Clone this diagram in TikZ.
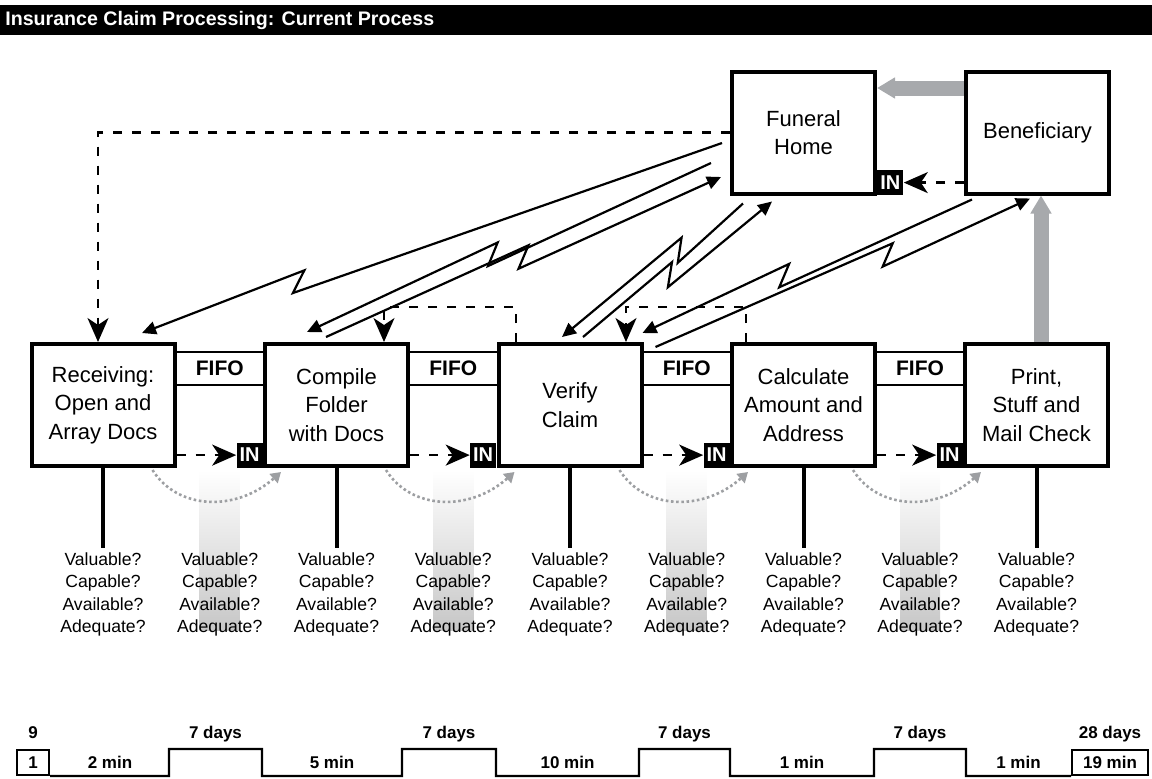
\documentclass[tikz,border=0pt]{standalone}
\usepackage{fontspec}
\setmainfont{Liberation Sans}
\usetikzlibrary{positioning,arrows.meta,calc}

\definecolor{pullgray}{HTML}{A7A9AC}
\definecolor{dotgray}{HTML}{9D9FA2}
\newcommand{\fourq}{Valuable?\\Capable?\\Available?\\Adequate?}

\tikzset{
  proc/.style={draw, line width=2pt, minimum width=71.5pt, minimum height=61pt,
    inner sep=0pt, align=center, font=\fontsize{11}{14.3}\selectfont},
  inbox/.style={fill=black, text=white, inner sep=0pt, minimum width=13pt,
    minimum height=12.5pt, font=\bfseries\fontsize{10}{10}\selectfont},
  fifo/.style={inner sep=0pt, font=\bfseries\fontsize{10.5}{12}\selectfont},
  quest/.style={align=center, anchor=north, inner sep=2pt,
    font=\fontsize{8.8}{11.25}\selectfont},
  stem/.style={line width=2pt},
  waitline/.style={line width=1.2pt, dash pattern=on 4.5pt off 5pt,
    -{Stealth[length=12pt,width=10.5pt,inset=3.5pt]}},
  handoff/.style={dotgray, line width=1.3pt, dash pattern=on 1.3pt off 1.3pt,
    -{Triangle[length=5pt,width=6pt]}},
  pull/.style={pullgray, line width=7.5pt, -{Triangle[length=9pt,width=10pt]}},
  zap/.style={to path={
    -- ($(\tikztostart)!#1!(\tikztotarget)!4.5pt!(\tikztotarget)!4.5pt!90:(\tikztotarget)$)
    -- ($(\tikztostart)!#1!(\tikztotarget)!-4.5pt!(\tikztotarget)!4.5pt!-90:(\tikztotarget)$)
    -- (\tikztotarget) \tikztonodes}},
  zaparr/.style={line width=1.1pt, line join=miter, -{Triangle[length=7pt,width=6.5pt]}},
  tbox/.style={draw, line width=1.2pt, inner sep=0pt, minimum height=12.3pt,
    font=\bfseries\fontsize{8.5}{10}\selectfont},
  tlab/.style={inner sep=0pt, anchor=base, font=\bfseries\fontsize{8.5}{10}\selectfont},
  tline/.style={line width=1.2pt}
}

\begin{document}
\begin{tikzpicture}[x=0.5pt,y=-0.5pt]
\useasboundingbox (0,0) rectangle (1152,778);

% Title bar
\fill (0,5) rectangle (1152,35);
\node[anchor=west, inner sep=0pt, text=white, font=\bfseries\fontsize{9.8}{12}\selectfont]
  (title) at (5,20) {Insurance Claim Processing: Current Process};

% Waiting time shading
\foreach \x in {219.5,453.5,686.5,920}
  \shade[top color=white, bottom color=black!22] (\x-20,470) rectangle (\x+20,630);

% Process steps
\node[proc] (recv)  at (103,405)    {Receiving:\\Open and\\Array Docs};
\node[proc] (comp)  at (336.5,405)  {Compile\\Folder\\with Docs};
\node[proc] (verif) at (570,405)    {Verify\\Claim};
\node[proc] (calcu) at (803.5,405)  {Calculate\\Amount and\\Address};
\node[proc] (print) at (1036.5,405) {Print,\\Stuff and\\Mail Check};

% Outside parties
\node[proc] (fh)    at (803.5,132.5)  {Funeral\\Home};
\node[proc] (benef) at (1037.5,132.5) {Beneficiary};

% FIFO lanes, inboxes and hand-offs
\foreach \a/\b/\i in {recv/comp/1,comp/verif/2,verif/calcu/3,calcu/print/4} {
  \draw[line width=1pt] (\a.east |- 0,352) -- (\b.west |- 0,352);
  \draw[line width=1pt] (\a.east |- 0,385) -- (\b.west |- 0,385);
  \path (\a.east |- 0,368.5) -- (\b.west |- 0,368.5) node[fifo, midway] (fifo\i) {FIFO};
  \node[inbox, anchor=south east] (in\i) at (\b.south west) {IN};
  \draw[waitline] (\a.east |- in\i.west) -- (in\i.west);
  \draw[handoff] ($(\a.south east)+(-24,2)$)
    .. controls ($(\a.south east)+(1,42)$) and ($(\b.south west)+(-27,44)$)
    .. ($(\b.south west)+(18,4)$);
}

% Questions under each step
\foreach \b in {recv,comp,verif,calcu,print} {
  \node[quest] (q\b) at (\b.south |- 0,548) {\fourq};
  \draw[stem] (\b.south) -- (q\b.north);
}
\foreach \i in {1,...,4}
  \node[quest] (qg\i) at (fifo\i |- 0,548) {\fourq};

% Funeral home and beneficiary
\node[inbox, anchor=south west] (infh) at (fh.south east) {IN};
\draw[waitline] (benef.west |- infh.east) -- (infh.east);
\draw[pull] (benef.west |- 0,88) -- (fh.east |- 0,88);
\draw[pull] (print.north -| 1041,0) -- (benef.south -| 1041,0);

% Rework loops
\draw[waitline] (fh.west) -| ($(recv.north)+(-5,0)$);
\draw[waitline] (verif.north -| 516,0) -- (516,307) -| (comp.north -| 384,0);
\draw[waitline] (calcu.north -| 746,0) -- (746,307) -| (verif.north -| 626,0);

% Phone calls
\coordinate (a1) at ($(fh.west)+(-8,10.5)$);
\coordinate (a2) at ($(recv.north)+(39,-9)$);
\coordinate (b1) at ($(fh.west)+(-19,30.5)$);
\coordinate (b2) at ($(comp.north)+(-29.5,-10)$);
\coordinate (b3) at ($(comp.north)+(-10.5,-5)$);
\coordinate (b4) at ($(fh.west)+(-9,44.5)$);
\coordinate (c1) at ($(fh.south)+(-60.5,8)$);
\coordinate (c2) at ($(verif.north)+(-8,-5)$);
\coordinate (c3) at ($(verif.north)+(13,-5)$);
\coordinate (c4) at ($(fh.south)+(-31.5,6)$);
\coordinate (d1) at ($(benef.south)+(-65.5,4)$);
\coordinate (d2) at ($(verif.north east)+(-1,-9)$);
\coordinate (d3) at ($(verif.north east)+(12,5)$);
\coordinate (d4) at ($(benef.south)+(-7.5,3)$);
\draw[zaparr] (a1) to[zap=.73] (a2);
\draw[zaparr] (b1) to[zap=.54] (b2);
\draw[zaparr] (b3) to[zap=.5] (b4);
\draw[zaparr] (c1) to[zap=.35] (c2);
\draw[zaparr] (c3) to[zap=.46] (c4);
\draw[zaparr] (d1) to[zap=.57] (d2);
\draw[zaparr] (d3) to[zap=.62] (d4);

% Timeline
\node[tbox, minimum width=15.8pt] (t0) at (33,762.5) {1};
\node[tbox, minimum width=37.8pt] (tend) at (1110,762.5) {19 min};
\draw[tline] (t0.south east) -- (169,776) |- (262,749) |- (402,776) |- (496,749)
  |- (639,776) |- (730,749) |- (874,776) |- (966,749) |- (tend.south west);
\foreach \x/\t [count=\k] in {110/2 min,332/5 min,567.5/10 min,802/1 min,1018.5/1 min}
  \node[tlab] (low\k) at (\x,768.5) {\t};
\foreach \x [count=\k] in {215.5,449,684.5,920}
  \node[tlab] (wait\k) at (\x,738) {7 days};
\node[tlab] (ttop0) at (t0 |- 0,738) {9};
\node[tlab] (ttop5) at (tend |- 0,738) {28 days};
\end{tikzpicture}
\end{document}
